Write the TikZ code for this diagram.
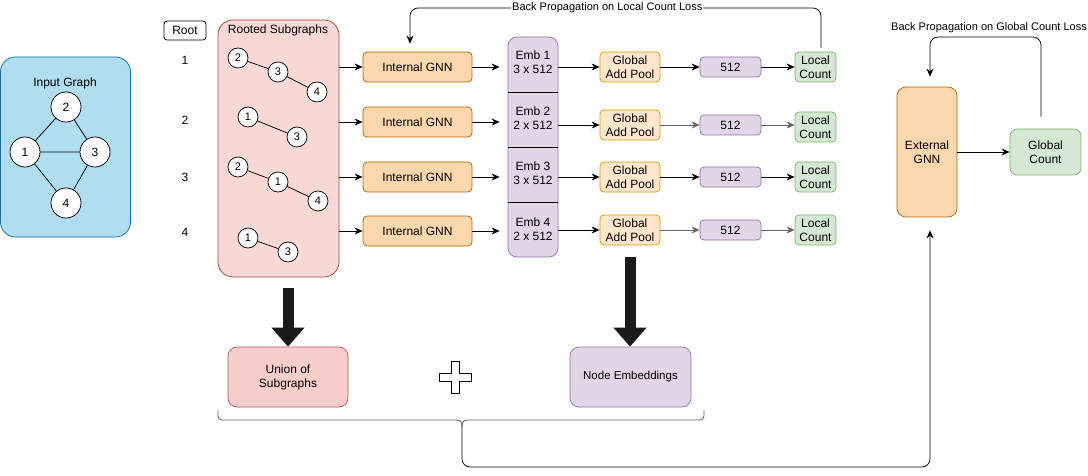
\documentclass[tikz,border=0pt]{standalone}
\usepackage{fontspec}
\setmainfont{Liberation Sans}
\usetikzlibrary{arrows.meta}
\definecolor{igF}{HTML}{B1DDF0}\definecolor{igD}{HTML}{10739E}
\definecolor{rsF}{HTML}{FAD9D5}\definecolor{rsD}{HTML}{AE4132}
\definecolor{unF}{HTML}{F8CECC}\definecolor{unD}{HTML}{B85450}
\definecolor{orF}{HTML}{FAD7AC}\definecolor{orD}{HTML}{B46504}
\definecolor{loF}{HTML}{FFE6CC}\definecolor{loD}{HTML}{D79B00}
\definecolor{puF}{HTML}{E1D5E7}\definecolor{puD}{HTML}{9673A6}
\definecolor{grF}{HTML}{D5E8D4}\definecolor{grD}{HTML}{82B366}
\definecolor{thick}{HTML}{1A1A1A}
\definecolor{gline}{HTML}{666666}
\begin{document}
\begin{tikzpicture}[x=1pt,y=-1pt,
  every node/.style={font=\fontsize{12}{14}\selectfont, inner sep=0pt},
  box/.style={draw, line width=0.75pt, align=center, rounded corners=4pt},
  bignode/.style={circle, draw, line width=0.75pt, fill=white, minimum size=30pt},
  smallnode/.style={circle, draw, line width=0.75pt, fill=white, minimum size=20pt, font=\fontsize{11}{13}\selectfont},
  gedge/.style={line width=0.75pt},
  arr/.style={line width=0.75pt, -{Stealth[length=8pt,width=7pt,inset=2.5pt]}},
  garr/.style={arr, draw=gline},
  bigarr/.style={draw=thick, line width=11pt, -{Triangle[length=19pt,width=32pt]}},
  smalltext/.style={font=\fontsize{11}{13}\selectfont}]
\useasboundingbox (0,0) rectangle (1088,476);

% Input graph
\node[box, fill=igF, draw=igD, rounded corners=15pt, minimum width=130pt, minimum height=180pt] (ig) at (65.5,147) {};
\node (igt) at (65,83) {Input Graph};
\node[bignode] (g2) at (66,107) {2};
\node[bignode] (g1) at (25,152) {1};
\node[bignode] (g3) at (95,152) {3};
\node[bignode] (g4) at (66,203) {4};
\draw[gedge] (g2) -- (g1) (g2) -- (g3) (g1) -- (g3) (g1) -- (g4) (g3) -- (g4);

% Root column
\node[box, fill=white, rounded corners=3pt, minimum width=42pt, minimum height=19pt] (root) at (185,30.5) {Root};
\node (r1) at (185,60) {1};
\node (r2) at (185,120) {2};
\node (r3) at (185,177) {3};
\node (r4) at (185,232) {4};

% Rooted subgraphs
\node[box, fill=rsF, draw=rsD, rounded corners=15pt, minimum width=121pt, minimum height=257pt] (rs) at (278.5,148.5) {};
\node (rst) at (278,30) {Rooted Subgraphs};
\node[smallnode] (a2) at (238,58) {2};
\node[smallnode] (a3) at (278,72) {3};
\node[smallnode] (a4) at (317,92) {4};
\draw[gedge] (a2) -- (a3) -- (a4);
\node[smallnode] (b1) at (248,117) {1};
\node[smallnode] (b3) at (297,137) {3};
\draw[gedge] (b1) -- (b3);
\node[smallnode] (c2) at (238,167) {2};
\node[smallnode] (c1) at (278,182) {1};
\node[smallnode] (c4) at (318,201) {4};
\draw[gedge] (c2) -- (c1) -- (c4);
\node[smallnode] (d1) at (248,238) {1};
\node[smallnode] (d3) at (288,252) {3};
\draw[gedge] (d1) -- (d3);

% Internal GNN
\foreach \i/\y in {1/67,2/122,3/177,4/231}{
  \node[box, fill=orF, draw=orD, minimum width=109pt, minimum height=30pt] (gnn\i) at (417.5,\y) {Internal GNN};
  \draw[arr] (rs.east |- gnn\i.west) -- (gnn\i.west);
}

% Embedding column
\node[box, fill=puF, draw=puD, rounded corners=9pt, minimum width=50pt, minimum height=220pt] (emb) at (533,147) {};
\draw[line width=0.75pt] (508,92) -- (558,92) (508,147) -- (558,147) (508,202) -- (558,202);
\node[align=center, minimum width=50pt, minimum height=55pt] (e1) at (533,62) {Emb 1\\3 x 512};
\node[align=center, minimum width=50pt, minimum height=55pt] (e2) at (533,118) {Emb 2\\2 x 512};
\node[align=center, minimum width=50pt, minimum height=55pt] (e3) at (533,173) {Emb 3\\3 x 512};
\node[align=center, minimum width=50pt, minimum height=55pt] (e4) at (533,229) {Emb 4\\2 x 512};
\foreach \i in {1,...,4}{
  \draw[arr, shorten >=8pt] (gnn\i.east) -- (emb.west |- gnn\i.east);
}

% Global add pool, 512, local count
\foreach \i/\y/\ly in {1/67/67,2/125/127,3/177/177,4/230/230}{
  \node[box, fill=loF, draw=loD, minimum width=60pt, minimum height=30pt] (gp\i) at (630,\y) {Global\\Add Pool};
  \node[box, fill=puF, draw=puD, minimum width=61pt, minimum height=20pt] (f\i) at (730.5,\y) {512};
  \node[box, fill=grF, draw=grD, minimum width=41pt, minimum height=30pt] (lc\i) at (815.5,\ly) {Local\\Count};
  \draw[arr] (emb.east |- gp\i.west) -- (gp\i.west);
}
\draw[arr] (gp1) -- (f1); \draw[arr] (f1) -- (lc1);
\draw[garr] (gp2) -- (f2); \draw[garr] (f2.east) -- (lc2.west |- f2.east);
\draw[arr] (gp3) -- (f3); \draw[arr] (f3) -- (lc3);
\draw[garr] (gp4) -- (f4); \draw[garr] (f4) -- (lc4);

% Back propagation (local)
\draw[arr, rounded corners=8pt, shorten <=4pt, shorten >=8pt] (lc1.north -| 821,0) -- (821,8) -| node[pos=0.26, fill=white, inner xsep=1pt, smalltext] (bpl) {Back Propagation on Local Count Loss} (gnn1.north -| 410,0);

% External GNN and global count
\node[box, fill=orF, draw=orD, rounded corners=9pt, minimum width=60pt, minimum height=130pt] (ext) at (927,152) {External\\GNN};
\node[box, fill=grF, draw=grD, rounded corners=7pt, minimum width=71pt, minimum height=46pt] (gc) at (1045.5,152) {Global\\Count};
\draw[arr] (ext.east) -- (gc.west);
\node[smalltext] (bpg) at (989,28) {Back Propagation on Global Count Loss};
\draw[arr, rounded corners=8pt, shorten <=12pt, shorten >=10pt] (gc.north -| 1041,0) -- (1041,37) -| (ext.north -| 930,0);

% Bottom boxes
\node[box, fill=unF, draw=unD, rounded corners=9pt, minimum width=120pt, minimum height=60pt] (un) at (288,377) {Union of\\Subgraphs};
\node[box, fill=puF, draw=puD, rounded corners=9pt, minimum width=121pt, minimum height=60pt, font=\fontsize{11.5}{13}\selectfont] (ne) at (630.5,377) {Node Embeddings};
\draw[bigarr, shorten <=11pt] (rs.south -| un.north) -- (un.north);
\draw[bigarr, shorten <=12pt] (gp4.south) -- (ne.north -| gp4.south);

% plus sign
\draw[line width=0.75pt, fill=white] (451,361) -- (459,361) -- (459,373) -- (471,373) -- (471,381) -- (459,381) -- (459,393) -- (451,393) -- (451,381) -- (439,381) -- (439,373) -- (451,373) -- cycle;

% brace
\draw[line width=0.9pt, draw=gline, rounded corners=4pt] (218,410) -- (218,420) -- (456,420);
\draw[line width=0.9pt, draw=gline, rounded corners=4pt] (704,410) -- (704,420) -- (468,420);
\draw[line width=0.9pt, draw=gline] (456,420) .. controls (461,420) and (462,422) .. (462,428);
\draw[line width=0.9pt, draw=gline] (468,420) .. controls (463,420) and (462,422) .. (462,428);
\coordinate (bstem) at (462,428);
\draw[arr, rounded corners=8pt, shorten >=13pt] (bstem) -- (462,467) -- (930,467) -- (ext.south -| 930,0);
\end{tikzpicture}
\end{document}
